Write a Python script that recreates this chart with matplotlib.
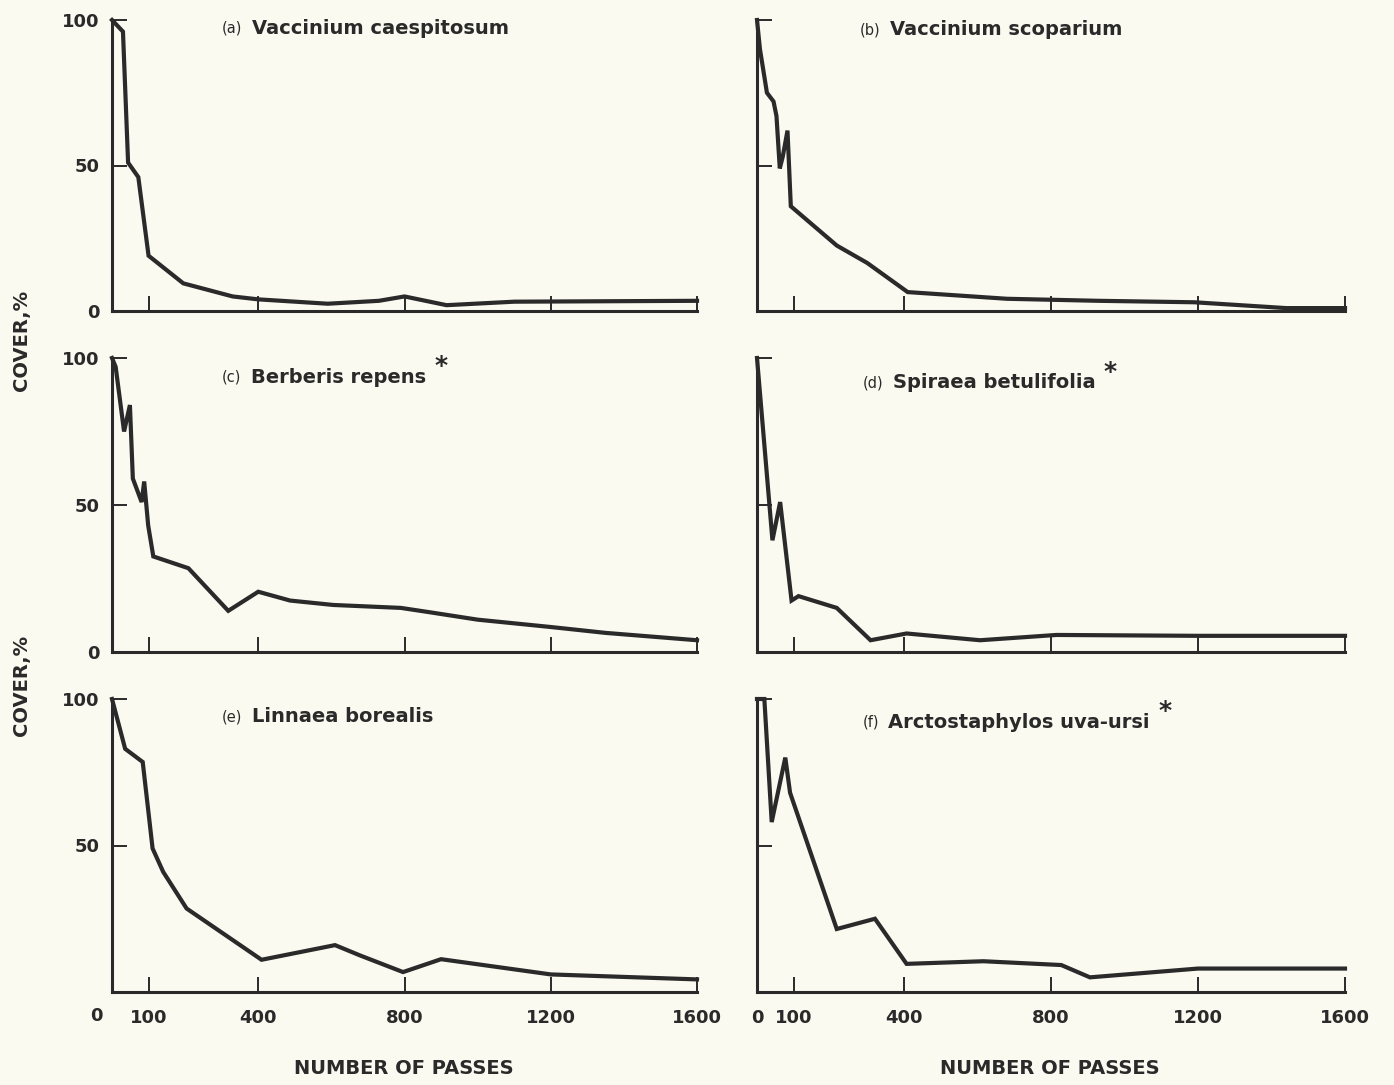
import matplotlib

matplotlib.use("Agg")
import matplotlib.pyplot as plt

BG = "#fafaf0"
INK = "#2a2a2a"

# cover (%) vs number of passes
a_x = [0, 30, 44, 72, 100, 195, 330, 400, 590, 730, 800, 915, 1100, 1600]
a_y = [100, 96, 51, 46, 19, 9.5, 5, 4, 2.5, 3.5, 5, 2, 3.2, 3.5]
b_x = [0, 8, 27, 45, 53, 62, 70, 83, 92, 217, 300, 410, 680, 930, 1190, 1440, 1600]
b_y = [100, 90, 75, 72, 67, 49, 53, 62, 36, 22.5, 16.5, 6.5, 4.2, 3.5, 3, 1, 1]
c_x = [0, 10, 33, 49, 57, 81, 88, 99, 113, 209, 318, 400, 487, 605, 790, 870, 1000, 1200, 1350, 1600]
c_y = [100, 97, 75, 84, 59, 51, 58, 43, 32.5, 28.5, 14, 20.5, 17.5, 16, 15, 13.5, 11, 8.5, 6.5, 4]
d_x = [0, 42, 63, 94, 113, 217, 309, 407, 607, 815, 1200, 1600]
d_y = [100, 38, 51, 17.5, 19, 15, 4, 6.3, 4, 5.8, 5.5, 5.5]
e_x = [0, 36, 84, 111, 140, 204, 409, 610, 678, 796, 900, 1200, 1600]
e_y = [100, 83, 78.5, 49, 41, 28.5, 11, 16, 12.5, 6.8, 11.2, 6, 4.3]
f_x = [0, 20, 40, 77, 90, 217, 321, 407, 616, 828, 906, 1200, 1600]
f_y = [100, 100, 58, 80, 68, 21.5, 25, 9.6, 10.5, 9.2, 5, 8, 8]

tags = ["(a)", "(b)", "(c)", "(d)", "(e)", "(f)"]
names = ["Vaccinium caespitosum", "Vaccinium scoparium", "Berberis repens",
         "Spiraea betulifolia", "Linnaea borealis", "Arctostaphylos uva-ursi"]
starred = [False, False, True, True, False, True]
series = [(a_x, a_y), (b_x, b_y), (c_x, c_y), (d_x, d_y), (e_x, e_y), (f_x, f_y)]

x_ticks = [0, 100, 400, 800, 1200, 1600]
x_ticklabels = ["0", "100", "400", "800", "1200", "1600"]

plt.rcParams["font.family"] = ["DejaVu Sans"]
plt.rcParams["font.weight"] = "bold"

fig = plt.figure(figsize=(13.94, 10.85), dpi=100, facecolor=BG)

W, H = 1394, 1085
cols = [(112, 697), (757, 1345)]
rows = [(20, 311), (358, 652), (699, 992)]
title_pos = [(0.188, 0.972), (0.175, 0.966), (0.188, 0.935),
             (0.179, 0.915), (0.188, 0.939), (0.179, 0.921)]

for i, (xs, ys) in enumerate(series):
    r, c = divmod(i, 2)
    x0, x1 = cols[c]
    top, bot = rows[r]
    ax = fig.add_axes([x0 / W, 1 - bot / H, (x1 - x0) / W, (bot - top) / H])
    ax.set_facecolor(BG)
    ax.plot(xs, ys, color=INK, lw=3.0, solid_joinstyle="miter", clip_on=False)
    ax.set_xlim(0, 1600)
    ax.set_ylim(0, 100)
    for s in ["top", "right"]:
        ax.spines[s].set_visible(False)
    for s in ["left", "bottom"]:
        ax.spines[s].set_linewidth(2.2)
        ax.spines[s].set_color(INK)
    ax.tick_params(direction="in", length=11, width=1.4, color=INK,
                   labelsize=13, labelcolor=INK, pad=9)
    ax.set_xticks(x_ticks)
    ax.set_yticks([0, 50, 100])
    if c == 0:
        ax.set_yticklabels(["0", "50", "100"] if r < 2 else ["", "50", "100"])
    else:
        ax.set_yticklabels([])
    if r == 2:
        labels = list(x_ticklabels)
        if c == 0:
            # the origin label sits left of the axis in the original
            labels[0] = ""
            ax.annotate("0", xy=(0, 0), xycoords=("data", "axes fraction"),
                        xytext=(-11, -17.5), textcoords="offset points",
                        fontsize=13, color=INK, ha="center", va="center")
        ax.set_xticklabels(labels)
        ax.tick_params(axis="x", pad=12)
    else:
        ax.set_xticklabels([])

    tx, ty = title_pos[i]
    t = ax.text(tx, ty, tags[i], transform=ax.transAxes, fontsize=10.5,
                fontweight="normal", color=INK, va="center", ha="left")
    nm = ax.annotate(names[i], xy=(1, 0.5), xycoords=t, xytext=(7, 0),
                     textcoords="offset points", fontsize=14, fontweight="bold",
                     color=INK, va="center", ha="left")
    if starred[i]:
        ax.annotate("*", xy=(1, 1), xycoords=nm, xytext=(6, 1),
                    textcoords="offset points", fontsize=18, fontweight="bold",
                    color=INK, va="center", ha="left")

for yc in (340, 685):
    fig.text(22 / W, 1 - yc / H, "COVER,%", rotation=90, fontsize=14,
             fontweight="bold", color=INK, ha="center", va="center")
for xc in (404, 1050):
    fig.text(xc / W, 1 - 1068 / H, "NUMBER OF PASSES", fontsize=14,
             fontweight="bold", color=INK, ha="center", va="center")

fig.savefig("out.png", dpi=100, facecolor=BG)
